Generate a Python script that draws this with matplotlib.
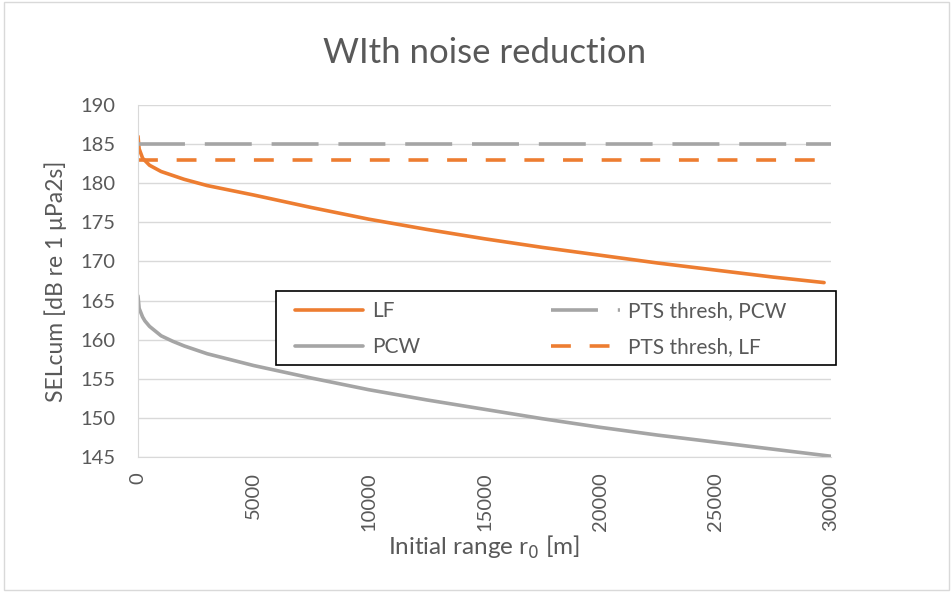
import matplotlib.pyplot as plt
from matplotlib.patches import Rectangle

# data
r_lf = [0, 50, 200, 500, 1000, 1500, 2000, 3000, 5000, 7500, 10000, 12500, 15000,
        17500, 20000, 22500, 25000, 27500, 29700]
lf = [186.0, 184.4, 183.2, 182.3, 181.5, 181.0, 180.5, 179.7, 178.5, 176.9, 175.4,
      174.1, 172.9, 171.8, 170.8, 169.8, 168.9, 168.0, 167.3]
r_pcw = [0, 50, 200, 300, 500, 1000, 1500, 2000, 3000, 5000, 7500, 10000, 12500,
         15000, 17500, 20000, 22500, 25000, 27500, 30000]
pcw = [165.6, 164.0, 162.9, 162.4, 161.7, 160.5, 159.8, 159.2, 158.2, 156.7, 155.1,
       153.6, 152.3, 151.1, 149.9, 148.8, 147.8, 146.9, 146.0, 145.1]
r_thr = [0, 30000]
pts_pcw = [185, 185]
pts_lf = [183, 183]

orange = "#ed7d31"
grey = "#a5a5a5"
txt = "#595959"

plt.rcParams['font.family'] = ['Lato', 'DejaVu Sans']

fig = plt.figure(figsize=(9.53, 5.92), dpi=100)
fig.patches.append(Rectangle((0.004, 0.004), 0.992, 0.992, transform=fig.transFigure,
                             fill=False, edgecolor="#d9d9d9", lw=1))
ax = fig.add_axes([0.1448, 0.228, 0.7272, 0.5946])

ax.plot(r_lf, lf, color=orange, lw=2.6, label="LF", solid_capstyle="round")
ax.plot(r_pcw, pcw, color=grey, lw=2.6, label="PCW", solid_capstyle="round")
ax.plot(r_thr, pts_pcw, color=grey, lw=2.6, dashes=(13, 5.5), label="PTS thresh, PCW")
ax.plot(r_thr, pts_lf, color=orange, lw=2.6, dashes=(5.5, 5.2), label="PTS thresh, LF")

ax.set_xlim(0, 30000)
ax.set_ylim(145, 190)
ax.set_yticks(range(145, 191, 5))
ax.set_xticks(range(0, 30001, 5000))
ax.grid(axis="y", color="#d9d9d9", lw=1)
ax.set_axisbelow(True)
for s in ["top", "right"]:
    ax.spines[s].set_visible(False)
for s in ["left", "bottom"]:
    ax.spines[s].set_color("#d9d9d9")
ax.tick_params(length=0, colors=txt, labelsize=14.5)
ax.tick_params(axis="y", pad=16)
ax.tick_params(axis="x", pad=11)
plt.setp(ax.get_xticklabels(), rotation=90)

ax.set_title("WIth noise reduction", fontsize=25, color=txt, pad=30)
ax.set_xlabel("Initial range r$_0$ [m]", fontsize=17.5, color=txt, labelpad=2)
ax.set_ylabel("SELcum [dB re 1 \u03bcPa2s]", fontsize=16.5, color=txt)
ax.yaxis.set_label_coords(-0.1025, 0.5)

# legend frame drawn separately so the padding can match
ax.add_patch(Rectangle((0.199, 0.2614), 0.808, 0.21, transform=ax.transAxes,
                       facecolor="white", edgecolor="black", lw=1.2,
                       clip_on=False, zorder=4.5))
leg = ax.legend(ncol=2, loc="upper left", bbox_to_anchor=(0.226, 0.442),
                fontsize=15, frameon=False, handlelength=3.3, handletextpad=0.4,
                borderaxespad=0, borderpad=0, labelcolor=txt, labelspacing=0.75,
                columnspacing=6.3)

fig.savefig("out.png", dpi=100)
